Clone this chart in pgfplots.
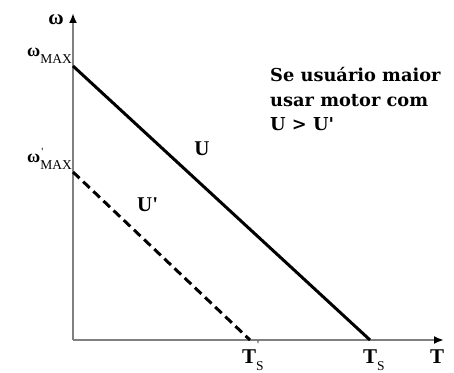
\documentclass[border=0pt]{standalone}
\usepackage{fontspec}
\setmainfont{Liberation Serif}
\newfontfamily\notefont{DejaVu Serif}
\usepackage{pgfplots}
\pgfplotsset{compat=1.18}
\usetikzlibrary{arrows.meta}
\tikzset{
  lbl/.style={font=\fontsize{21}{21}\selectfont\bfseries, inner sep=0pt},
}
\newcommand{\sub}[1]{\raisebox{-7pt}{\fontsize{13.5}{13.5}\selectfont\mdseries #1}}
% small prime raised by #1
\newcommand{\prm}[1]{\rlap{\kern1pt\raisebox{#1}{\fontsize{11}{11}\selectfont\mdseries\textquotesingle}}}
\begin{document}
\begin{tikzpicture}
\begin{axis}[
  x=1pt, y=1pt,
  xmin=0, xmax=371, ymin=0, ymax=327,
  axis lines=left,
  axis line style={draw=black!50, line width=2.2pt, -{Latex[length=10pt,width=8pt,black]}},
  xtick=\empty, ytick=\empty,
  clip=false,
]
% torque-speed characteristics
\addplot[black, line width=3pt] coordinates {(0,274) (297,0)};
\addplot[black, line width=3pt, dash pattern=on 9pt off 5pt] coordinates {(0,168) (177,0)};
% figure extent
\path (axis cs:-73,-32) rectangle (axis cs:381,340);
% axis labels
\node[lbl, anchor=base] at (axis cs:-17,315) {ω};
\node[lbl, anchor=base] at (axis cs:364,-23) {T};
\node[lbl, anchor=base west] at (axis cs:290,-23) {T\sub{S}};
\node[lbl, anchor=base west] at (axis cs:169,-23) {T\prm{15pt}\sub{S}};
\node[lbl, anchor=base east, font=\fontsize{18}{18}\selectfont\bfseries] at (axis cs:-1,283) {ω\sub{MAX}};
\node[lbl, anchor=base east, font=\fontsize{18}{18}\selectfont\bfseries] at (axis cs:-1,177) {ω\prm{7pt}\sub{MAX}};
% curve labels
\node[lbl, anchor=base] at (axis cs:129,184) {U};
\node[lbl, anchor=base west] at (axis cs:64,129) {U\textquotesingle};
% note (anchored at the baseline of its last line)
\node[anchor=base west, align=left, inner sep=0pt, font=\notefont\fontsize{17.8}{24.5}\selectfont\bfseries] at (axis cs:197,209) {Se usuário maior\\usar motor com\\U > U\textquotesingle};
\end{axis}
\end{tikzpicture}
\end{document}
